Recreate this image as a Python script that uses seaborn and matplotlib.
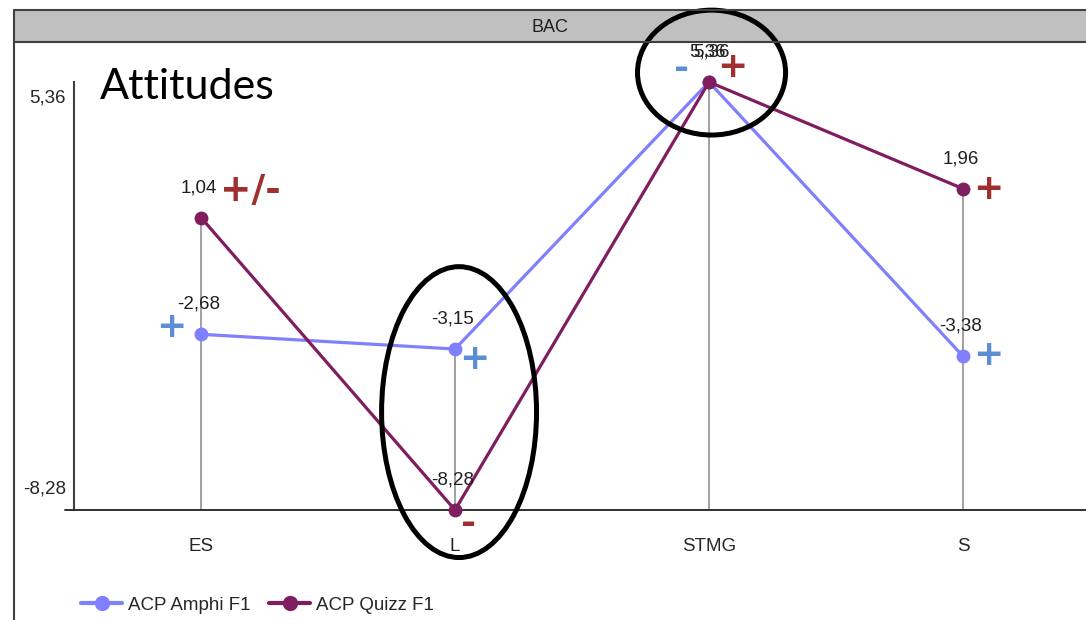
import numpy as np
import pandas as pd
import matplotlib
matplotlib.use("Agg")
import matplotlib.pyplot as plt
import seaborn as sns
from matplotlib.patches import Ellipse, Rectangle
from matplotlib.lines import Line2D
from matplotlib.transforms import ScaledTranslation

#### Data
categories = ["ES", "L", "STMG", "S"]
amphi_values = [-2.68, -3.15, 5.36, -3.38]
quizz_values = [1.04, -8.28, 5.36, 1.96]
series_names = ["ACP Amphi F1", "ACP Quizz F1"]
y_ticks = [-8.28, 5.36]

# hand-drawn signs: (category index, series, dx px, dy px, text, colour key, size)
signs = [
    (0, "ACP Amphi F1", -30, 7, "+", "blue", 26),
    (0, "ACP Quizz F1", 49, 27, "+/-", "red", 27),
    (1, "ACP Amphi F1", 19, -10, "+", "blue", 26),
    (1, "ACP Quizz F1", 14, -14, "-", "red", 26),
    (2, "ACP Amphi F1", -27, 13, "-", "blue", 26),
    (2, "ACP Quizz F1", 23, 15, "+", "red", 26),
    (3, "ACP Quizz F1", 25, 0, "+", "red", 26),
    (3, "ACP Amphi F1", 25, 1, "+", "blue", 26),
]

#### Colours / style
amphi_color = "#8080FF"
quizz_color = "#7F1D5F"
sign_colors = {"blue": "#5B8ED6", "red": "#A0302F"}

sns.set_style("white")
plt.rcParams["font.family"] = ["Liberation Sans", "DejaVu Sans"]

W, H = 1086, 620
fig = plt.figure(figsize=(W / 100, H / 100), dpi=100)

def px(x, y):
    # pixel (from top-left) -> figure fraction
    return x / W, 1 - y / H

# axes: x from -0.5 to 3.5 at px 74..1090, y from -8.28..5.36 at px 510..82
x0, y0 = px(74, 510)
x1, y1 = px(1090, 82)
ax = fig.add_axes([x0, y0, x1 - x0, y1 - y0])

df = pd.DataFrame({
    "cat": categories * 2,
    "value": amphi_values + quizz_values,
    "serie": [series_names[0]] * 4 + [series_names[1]] * 4,
})
series_vals = {series_names[0]: amphi_values, series_names[1]: quizz_values}

# drop lines from highest point down to the axis
top_vals = np.maximum(amphi_values, quizz_values)
ax.vlines(range(len(categories)), min(y_ticks), top_vals, color="#A0A0A0", lw=1.4, zorder=1)

sns.lineplot(
    data=df, x="cat", y="value", hue="serie",
    palette={series_names[0]: amphi_color, series_names[1]: quizz_color},
    marker="o", markersize=10, markeredgewidth=0, linewidth=2.3,
    sort=False, legend=False, ax=ax, zorder=3,
)
for line in ax.lines:
    line.set_clip_on(False)

ax.set_xlim(-0.5, 3.5)
ax.set_ylim(min(y_ticks), max(y_ticks))
ax.set_xlabel("")
ax.set_ylabel("")

# spines
for side in ["top", "right"]:
    ax.spines[side].set_visible(False)
ax.spines["left"].set_color("#404040")
ax.spines["left"].set_linewidth(1.5)
ax.spines["bottom"].set_color("#202020")
ax.spines["bottom"].set_linewidth(1.3)

# ticks
ax.set_xticks(range(len(categories)))
ax.set_xticklabels(categories, fontsize=13.5)
ax.tick_params(axis="x", length=0, pad=20)
ax.set_yticks(y_ticks)
ax.set_yticklabels([f"{v:.2f}".replace(".", ",") for v in y_ticks], fontsize=13.5)
ax.tick_params(axis="y", length=0, pad=6)
for lab, dy in zip(ax.get_yticklabels(), [23, -14]):
    lab.set_transform(lab.get_transform() + ScaledTranslation(0, dy / 100, fig.dpi_scale_trans))
ax.plot([-0.535, -0.5], [min(y_ticks), min(y_ticks)], color="#202020", lw=1.3, clip_on=False)

# value labels (both series are 5,36 at STMG: labels drawn nearly on top of each other)
for s_i, name in enumerate(series_names):
    for i, v in enumerate(series_vals[name]):
        dx = 2 if (s_i == 1 and v == amphi_values[i]) else -2
        ax.annotate(f"{v:.2f}".replace(".", ","), (i, v), xytext=(dx, 30),
                    textcoords="offset pixels", ha="center", va="center",
                    fontsize=13.5, color="#202020", zorder=5, annotation_clip=False)

# coloured signs
for i, name, dx, dy, txt, ck, fs in signs:
    v = series_vals[name][i]
    ax.annotate(txt, (i, v), xytext=(dx, dy), textcoords="offset pixels",
                ha="center", va="center", fontsize=fs, fontweight="bold",
                family="DejaVu Sans", color=sign_colors[ck], zorder=6,
                annotation_clip=False)

# black circles
ax.add_patch(Ellipse((1.016, -5.16), 0.61, 9.27, fill=False, ec="black", lw=3.6,
                     clip_on=False, zorder=7))
ax.add_patch(Ellipse((2.01, 5.66), 0.583, 3.98, fill=False, ec="black", lw=3.6,
                     clip_on=False, zorder=7))

# header bar and frame
hx, hy = px(14, 42)
fig.add_artist(Rectangle((hx, hy), 1.0, 32 / H, transform=fig.transFigure,
                         fc="#C0C0C0", ec="none", zorder=0))
fig.add_artist(Line2D([hx, 1], [1 - 10 / H] * 2, transform=fig.transFigure, color="#404040", lw=1.5))
fig.add_artist(Line2D([hx, 1], [1 - 42 / H] * 2, transform=fig.transFigure, color="#404040", lw=1.5))
fig.add_artist(Line2D([hx, hx], [0, 1 - 10 / H], transform=fig.transFigure, color="#404040", lw=1.5))
fig.text(*px(550, 27), "BAC", ha="center", va="center", fontsize=13, color="#202020")

# big title
fig.text(*px(100, 99), "Attitudes", ha="left", va="baseline", fontsize=31,
         family=["Lato", "DejaVu Sans"], color="black")

# legend
handles = [Line2D([], [], color=c, lw=3, marker="o", markersize=11, markeredgewidth=0)
           for c in [amphi_color, quizz_color]]
fig.legend(handles, series_names, loc="center left", bbox_to_anchor=px(81, 605),
           ncol=2, frameon=False, fontsize=13.5, handlelength=2.2, handletextpad=0.3,
           columnspacing=1.0, borderaxespad=0, borderpad=0)

fig.savefig("out.png", dpi=100)
